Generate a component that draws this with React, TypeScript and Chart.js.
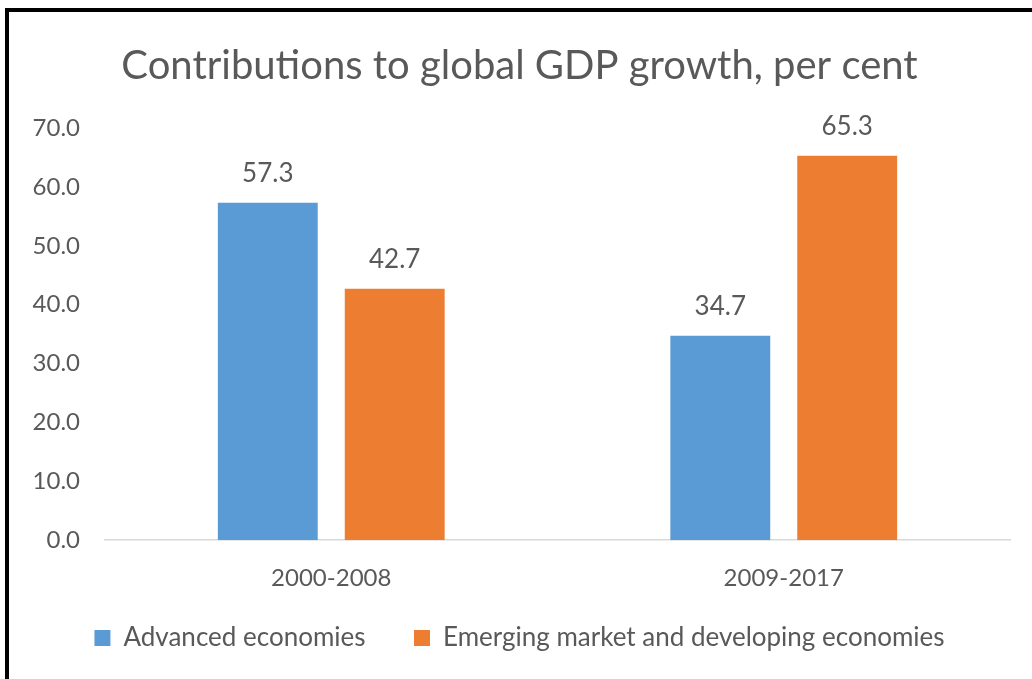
import React, { useEffect, useRef } from "react";
import { Chart, registerables } from "chart.js";

Chart.register(...registerables);

const categories = ["2000-2008", "2009-2017"];
const advanced = [57.3, 34.7];
const emerging = [42.7, 65.3];
const seriesNames = ["Advanced economies", "Emerging market and developing economies"];
const titleText = "Contributions to global GDP growth, per cent";

const FONT = "Lato, 'Open Sans', sans-serif";
const TEXT = "#595959";

const valueLabels = {
  id: "valueLabels",
  afterDatasetsDraw(chart: any) {
    const ctx = chart.ctx;
    ctx.save();
    ctx.font = `26px ${FONT}`;
    ctx.fillStyle = TEXT;
    ctx.textAlign = "center";
    ctx.textBaseline = "bottom";
    chart.data.datasets.forEach((ds: any, i: number) => {
      const meta = chart.getDatasetMeta(i);
      meta.data.forEach((bar: any, j: number) => {
        ctx.fillText(Number(ds.data[j]).toFixed(1), bar.x, bar.y - 16);
      });
    });
    ctx.restore();
  },
};

export default function App() {
  const ref = useRef<HTMLCanvasElement>(null);
  useEffect(() => {
    document.body.style.overflow = "hidden";
    const chart = new Chart(ref.current!, {
      type: "bar",
      data: {
        labels: categories,
        datasets: [
          { label: seriesNames[0], data: advanced, backgroundColor: "#5B9BD5", barPercentage: 0.787, categoryPercentage: 0.561 },
          { label: seriesNames[1], data: emerging, backgroundColor: "#ED7D31", barPercentage: 0.787, categoryPercentage: 0.561 },
        ],
      },
      options: {
        animation: false,
        responsive: false,
        maintainAspectRatio: false,
        layout: { padding: { left: 20, right: 62, top: 30, bottom: 18 } },
        plugins: {
          title: {
            display: true,
            text: titleText,
            color: TEXT,
            font: { family: FONT, size: 40, weight: "normal" },
            padding: { top: 0, bottom: 38 },
          },
          legend: {
            position: "bottom",
            labels: {
              color: TEXT,
              font: { family: FONT, size: 26 },
              boxWidth: 16,
              boxHeight: 16,
              padding: 16,
              generateLabels(chart: any) {
                const items = Chart.defaults.plugins.legend.labels.generateLabels(chart);
                if (items.length > 1) items[0].text = items[0].text + "\u2003\u2002";
                return items;
              },
            },
          },
          tooltip: { enabled: false },
        },
        scales: {
          x: {
            grid: { display: false },
            border: { color: "#D9D9D9", width: 1.5 },
            ticks: { color: TEXT, font: { family: FONT, size: 24 }, padding: 16 },
          },
          y: {
            min: 0,
            max: 70,
            afterFit(scale: any) { scale.width = 76; },
            grid: { display: false },
            border: { display: false },
            ticks: {
              stepSize: 10,
              color: TEXT,
              font: { family: FONT, size: 24 },
              padding: 17,
              callback: (v: any) => Number(v).toFixed(1),
            },
          },
        },
      },
      plugins: [valueLabels],
    });
    return () => chart.destroy();
  }, []);
  return (
    <div style={{ position: "absolute", left: 5, top: 8, width: 1080, height: 700, borderLeft: "4px solid #000", borderTop: "4px solid #000", background: "#fff", overflow: "hidden" }}>
      <canvas ref={ref} width={1063} height={667} style={{ display: "block" }} />
    </div>
  );
}
